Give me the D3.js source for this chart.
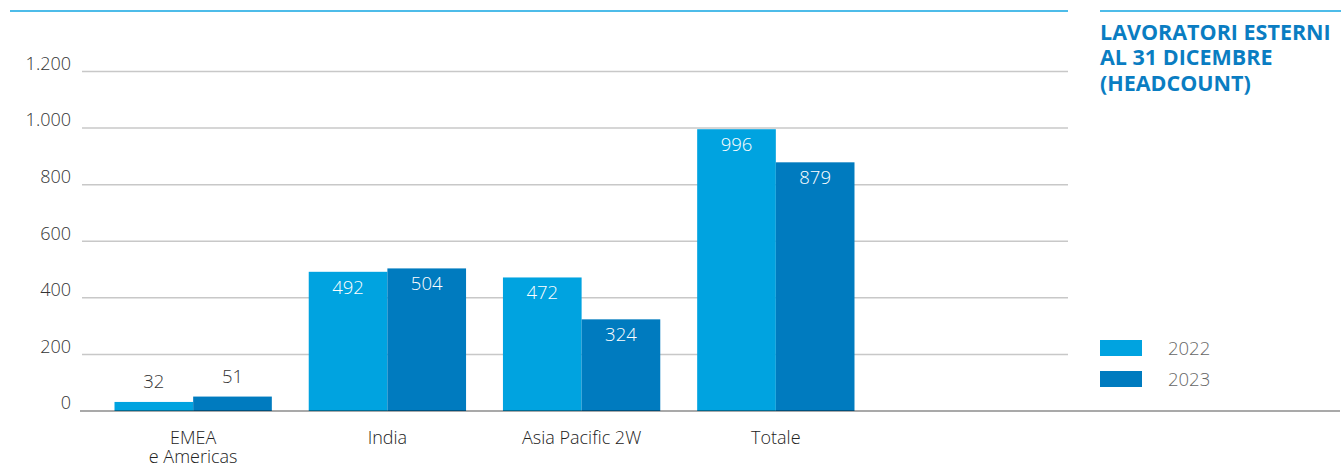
<!DOCTYPE html>
<html>
<head>
<meta charset="utf-8">
<script src="https://cdn.jsdelivr.net/npm/d3@7"></script>
<style>
  body { margin: 0; background: #fff; }
  svg { display: block; }
  svg text { font-family: "Open Sans", sans-serif; }
</style>
</head>
<body>
<script>
// data
var categories = ["EMEA\ne Americas", "India", "Asia Pacific 2W", "Totale"];
var years = ["2022", "2023"];
var values2022 = [32, 492, 472, 996];
var values2023 = [51, 504, 324, 879];
var yTicks = [0, 200, 400, 600, 800, 1000, 1200];
var titleLines = ["LAVORATORI ESTERNI", "AL 31 DICEMBRE", "(HEADCOUNT)"];

var colors = {"2022": "#00a3e0", "2023": "#007bbf"};

var W = 1341, H = 468;

var svg = d3.select("body").append("svg").attr("width", W).attr("height", H);

var data = categories.map(function (c, i) {
  return {cat: c, vals: [
    {year: "2022", v: values2022[i]},
    {year: "2023", v: values2023[i]}
  ]};
});

var xScale = d3.scaleBand().domain(categories).range([98, 871])
  .paddingInner(0.19).paddingOuter(0.085);
var xInner = d3.scaleBand().domain(years).range([0, xScale.bandwidth()]);
var yScale = d3.scaleLinear().domain([0, 1200]).range([411, 71.5]);

// top rules
svg.append("line").attr("x1", 10).attr("x2", 1068).attr("y1", 11).attr("y2", 11)
  .attr("stroke", "#4dbce9").attr("stroke-width", 2);
svg.append("line").attr("x1", 1100).attr("x2", 1341).attr("y1", 11).attr("y2", 11)
  .attr("stroke", "#4dbce9").attr("stroke-width", 2);

// grid + y labels
var yAxis = d3.axisLeft(yScale).tickValues(yTicks)
  .tickSize(0).tickPadding(0)
  .tickFormat(function (d) { return d3.format(",")(d).replace(/,/g, "."); });

var yAxisG = svg.append("g").attr("transform", "translate(71,0)").call(yAxis)
  .attr("font-family", null).attr("font-size", null);
yAxisG.select(".domain").remove();
yAxisG.selectAll("text")
  .attr("dy", "-0.12em")
  .style("font-size", "18px")
  .style("font-weight", 300)
  .attr("fill", "#333");

svg.append("g").selectAll("line")
  .data(yTicks.filter(function (d) { return d > 0; }))
  .join("line")
  .attr("x1", 82).attr("x2", 1068)
  .attr("y1", function (d) { return yScale(d); })
  .attr("y2", function (d) { return yScale(d); })
  .attr("stroke", "#c8c8c8").attr("stroke-width", 1.5);

// bars
var groups = svg.append("g").selectAll("g")
  .data(data).join("g")
  .attr("transform", function (d) { return "translate(" + xScale(d.cat) + ",0)"; });

groups.selectAll("rect")
  .data(function (d) { return d.vals; })
  .join("rect")
  .attr("x", function (d) { return xInner(d.year); })
  .attr("width", xInner.bandwidth())
  .attr("y", function (d) { return yScale(d.v); })
  .attr("height", function (d) { return yScale(0) - yScale(d.v); })
  .attr("fill", function (d) { return colors[d.year]; });

groups.selectAll("text.val")
  .data(function (d) { return d.vals; })
  .join("text")
  .attr("class", "val")
  .attr("x", function (d) { return xInner(d.year) + xInner.bandwidth() / 2; })
  .attr("y", function (d) {
    var inside = yScale(0) - yScale(d.v) > 40;
    return inside ? yScale(d.v) + 22 : yScale(d.v) - 14;
  })
  .attr("text-anchor", "middle")
  .style("font-size", "18.5px")
  .style("font-weight", 300)
  .attr("fill", function (d) { return yScale(0) - yScale(d.v) > 40 ? "#fff" : "#333"; })
  .text(function (d) { return d.v; });

// baseline
svg.append("line").attr("x1", 80).attr("x2", 1340)
  .attr("y1", yScale(0)).attr("y2", yScale(0))
  .attr("stroke", "#000").attr("stroke-opacity", 0.45).attr("stroke-width", 1.6);

// category labels, one text per line
var catLines = [];
categories.forEach(function (c) {
  c.split("\n").forEach(function (t, i) { catLines.push({cat: c, text: t, line: i}); });
});
svg.append("g").selectAll("text")
  .data(catLines).join("text")
  .attr("x", function (d) { return xScale(d.cat) + xScale.bandwidth() / 2; })
  .attr("y", function (d) { return 444 + d.line * 19; })
  .attr("text-anchor", "middle")
  .style("font-size", "18px")
  .style("font-weight", 300)
  .attr("fill", "#222")
  .text(function (d) { return d.text; });

// title
svg.append("text")
  .attr("x", 1100).attr("y", 39.5)
  .style("font-size", "21.5px")
  .style("font-weight", 700)
  .attr("fill", "#0a7dc2")
  .selectAll("tspan").data(titleLines).join("tspan")
  .attr("x", 1100)
  .attr("dy", function (d, i) { return i === 0 ? 0 : 25.7; })
  .text(function (d) { return d; });

// legend
var legend = svg.append("g").selectAll("g")
  .data(years).join("g")
  .attr("transform", function (d, i) { return "translate(1100," + (340 + i * 31) + ")"; });
legend.append("rect").attr("width", 42).attr("height", 16)
  .attr("fill", function (d) { return colors[d]; });
legend.append("text").attr("x", 68).attr("y", 15)
  .style("font-size", "18.5px")
  .style("font-weight", 300)
  .attr("fill", "#666")
  .text(function (d) { return d; });
</script>
</body>
</html>
